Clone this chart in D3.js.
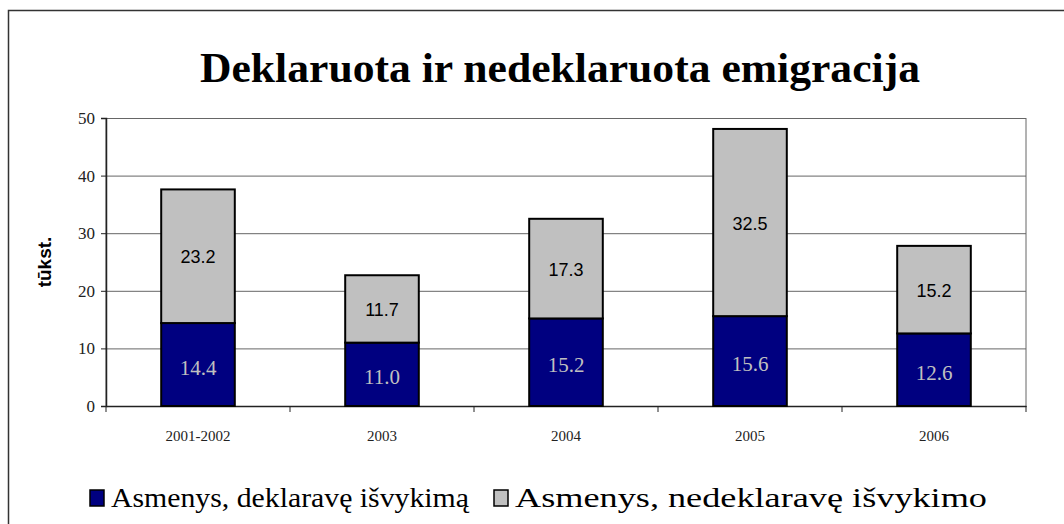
<!DOCTYPE html>
<html>
<head>
<meta charset="utf-8">
<script src="https://cdn.jsdelivr.net/npm/d3@7"></script>
<style>
  body { margin: 0; background: #fff; }
</style>
</head>
<body>
<div id="chart"></div>
<script>
var categories = ["2001-2002", "2003", "2004", "2005", "2006"];
var declared = [14.4, 11.0, 15.2, 15.6, 12.6];
var undeclared = [23.2, 11.7, 17.3, 32.5, 15.2];
var yTicks = [0, 10, 20, 30, 40, 50];
var seriesNames = ["Asmenys, deklaravę išvykimą", "Asmenys, nedeklaravę išvykimo"];
var colors = ["#000080", "#c0c0c0"];

function main() {
  var W = 1064, H = 524;
  var pLeft = 106, pRight = 1026, pTop = 118, pBottom = 406;

  var svg = d3.select("#chart").append("svg")
    .attr("width", W).attr("height", H);

  // outer frame (cut off on right/bottom like the original)
  svg.append("rect")
    .attr("x", 8.5).attr("y", 10.5)
    .attr("width", 1070).attr("height", 540)
    .attr("fill", "none").attr("stroke", "#333").attr("stroke-width", 1.5);

  var x = d3.scaleBand().domain(categories).range([pLeft, pRight]);
  var y = d3.scaleLinear().domain([0, 50]).range([pBottom, pTop]);

  // plot area border
  svg.append("rect")
    .attr("x", pLeft).attr("y", pTop + 0.5)
    .attr("width", pRight - pLeft).attr("height", pBottom - pTop)
    .attr("fill", "none").attr("stroke", "#666").attr("stroke-width", 1);

  // gridlines
  svg.append("g").selectAll("line")
    .data(yTicks.filter(d => d > 0 && d < 50))
    .enter().append("line")
    .attr("x1", pLeft).attr("x2", pRight)
    .attr("y1", d => y(d) + 0.5).attr("y2", d => y(d) + 0.5)
    .attr("stroke", "#666").attr("stroke-width", 1);

  // y axis
  var yAxis = svg.append("g")
    .attr("transform", "translate(" + pLeft + ",0)")
    .call(d3.axisLeft(y).tickValues(yTicks).tickSize(5).tickPadding(6));
  yAxis.attr("font-family", "Liberation Serif, serif").attr("font-size", 17);
  yAxis.select(".domain").attr("stroke", "#222").attr("stroke-width", 1.5);
  yAxis.selectAll(".tick line").attr("stroke", "#222");
  yAxis.selectAll("text").attr("fill", "#222");

  // x axis
  var xAxis = svg.append("g")
    .attr("transform", "translate(0," + pBottom + ")")
    .call(d3.axisBottom(x).tickSize(0).tickPadding(24));
  xAxis.attr("font-family", "Liberation Serif, serif").attr("font-size", 15);
  xAxis.select(".domain").attr("stroke", "#222").attr("stroke-width", 1.5);
  xAxis.selectAll("text").attr("fill", "#222");
  // category boundary ticks
  svg.append("g").selectAll("line")
    .data(categories.map(c => x(c)).concat([pRight]))
    .enter().append("line")
    .attr("x1", d => d).attr("x2", d => d)
    .attr("y1", pBottom).attr("y2", pBottom + 6)
    .attr("stroke", "#222").attr("stroke-width", 1);

  // stacked bars
  var rows = categories.map((c, i) => ({cat: c, a: declared[i], b: undeclared[i]}));
  var stack = d3.stack().keys(["a", "b"])(rows);
  var bw = x.bandwidth() * 0.4;

  var groups = svg.append("g").selectAll("g")
    .data(stack).enter().append("g")
    .attr("fill", (d, i) => colors[i]);

  groups.selectAll("rect")
    .data(d => d).enter().append("rect")
    .attr("x", d => x(d.data.cat) + (x.bandwidth() - bw) / 2)
    .attr("width", bw)
    .attr("y", d => y(d[1]))
    .attr("height", d => y(d[0]) - y(d[1]))
    .attr("stroke", "#000").attr("stroke-width", 2);

  // labels
  svg.append("g").selectAll("text")
    .data(stack[0]).enter().append("text")
    .attr("x", d => x(d.data.cat) + x.bandwidth() / 2)
    .attr("y", d => (y(d[0]) + y(d[1])) / 2 + 10)
    .attr("text-anchor", "middle")
    .attr("font-family", "Liberation Serif, serif")
    .attr("font-size", 21).attr("fill", "#c0c0c0")
    .text(d => d.data.a.toFixed(1));

  svg.append("g").selectAll("text")
    .data(stack[1]).enter().append("text")
    .attr("x", d => x(d.data.cat) + x.bandwidth() / 2)
    .attr("y", d => (y(d[0]) + y(d[1])) / 2 + 7)
    .attr("text-anchor", "middle")
    .attr("font-family", "Liberation Sans, Arial, sans-serif")
    .attr("font-size", 18).attr("fill", "#000")
    .text(d => d.data.b.toFixed(1));

  // title
  svg.append("text")
    .attr("x", 560).attr("y", 82)
    .attr("text-anchor", "middle")
    .attr("font-family", "Liberation Serif, serif")
    .attr("font-weight", "bold").attr("font-size", 42)
    .attr("textLength", 720).attr("lengthAdjust", "spacingAndGlyphs")
    .text("Deklaruota ir nedeklaruota emigracija");

  // y label
  svg.append("text")
    .attr("transform", "translate(51,262) rotate(-90)")
    .attr("text-anchor", "middle")
    .attr("font-family", "Liberation Sans, Arial, sans-serif")
    .attr("font-weight", "bold").attr("font-size", 19)
    .text("tūkst.");

  // legend
  var legendX = [90, 494];
  var legendW = [358, 472];
  var leg = svg.append("g").selectAll("g")
    .data(seriesNames).enter().append("g")
    .attr("transform", (d, i) => "translate(" + legendX[i] + ",490)");
  leg.append("rect")
    .attr("x", 0).attr("y", 0).attr("width", 14).attr("height", 16)
    .attr("fill", (d, i) => colors[i]).attr("stroke", "#000").attr("stroke-width", 1.5);
  leg.append("text")
    .attr("x", 21).attr("y", 17)
    .attr("font-family", "Liberation Serif, serif")
    .attr("font-size", 28)
    .attr("textLength", (d, i) => legendW[i]).attr("lengthAdjust", "spacingAndGlyphs")
    .text(d => d);
}

main();
</script>
</body>
</html>
